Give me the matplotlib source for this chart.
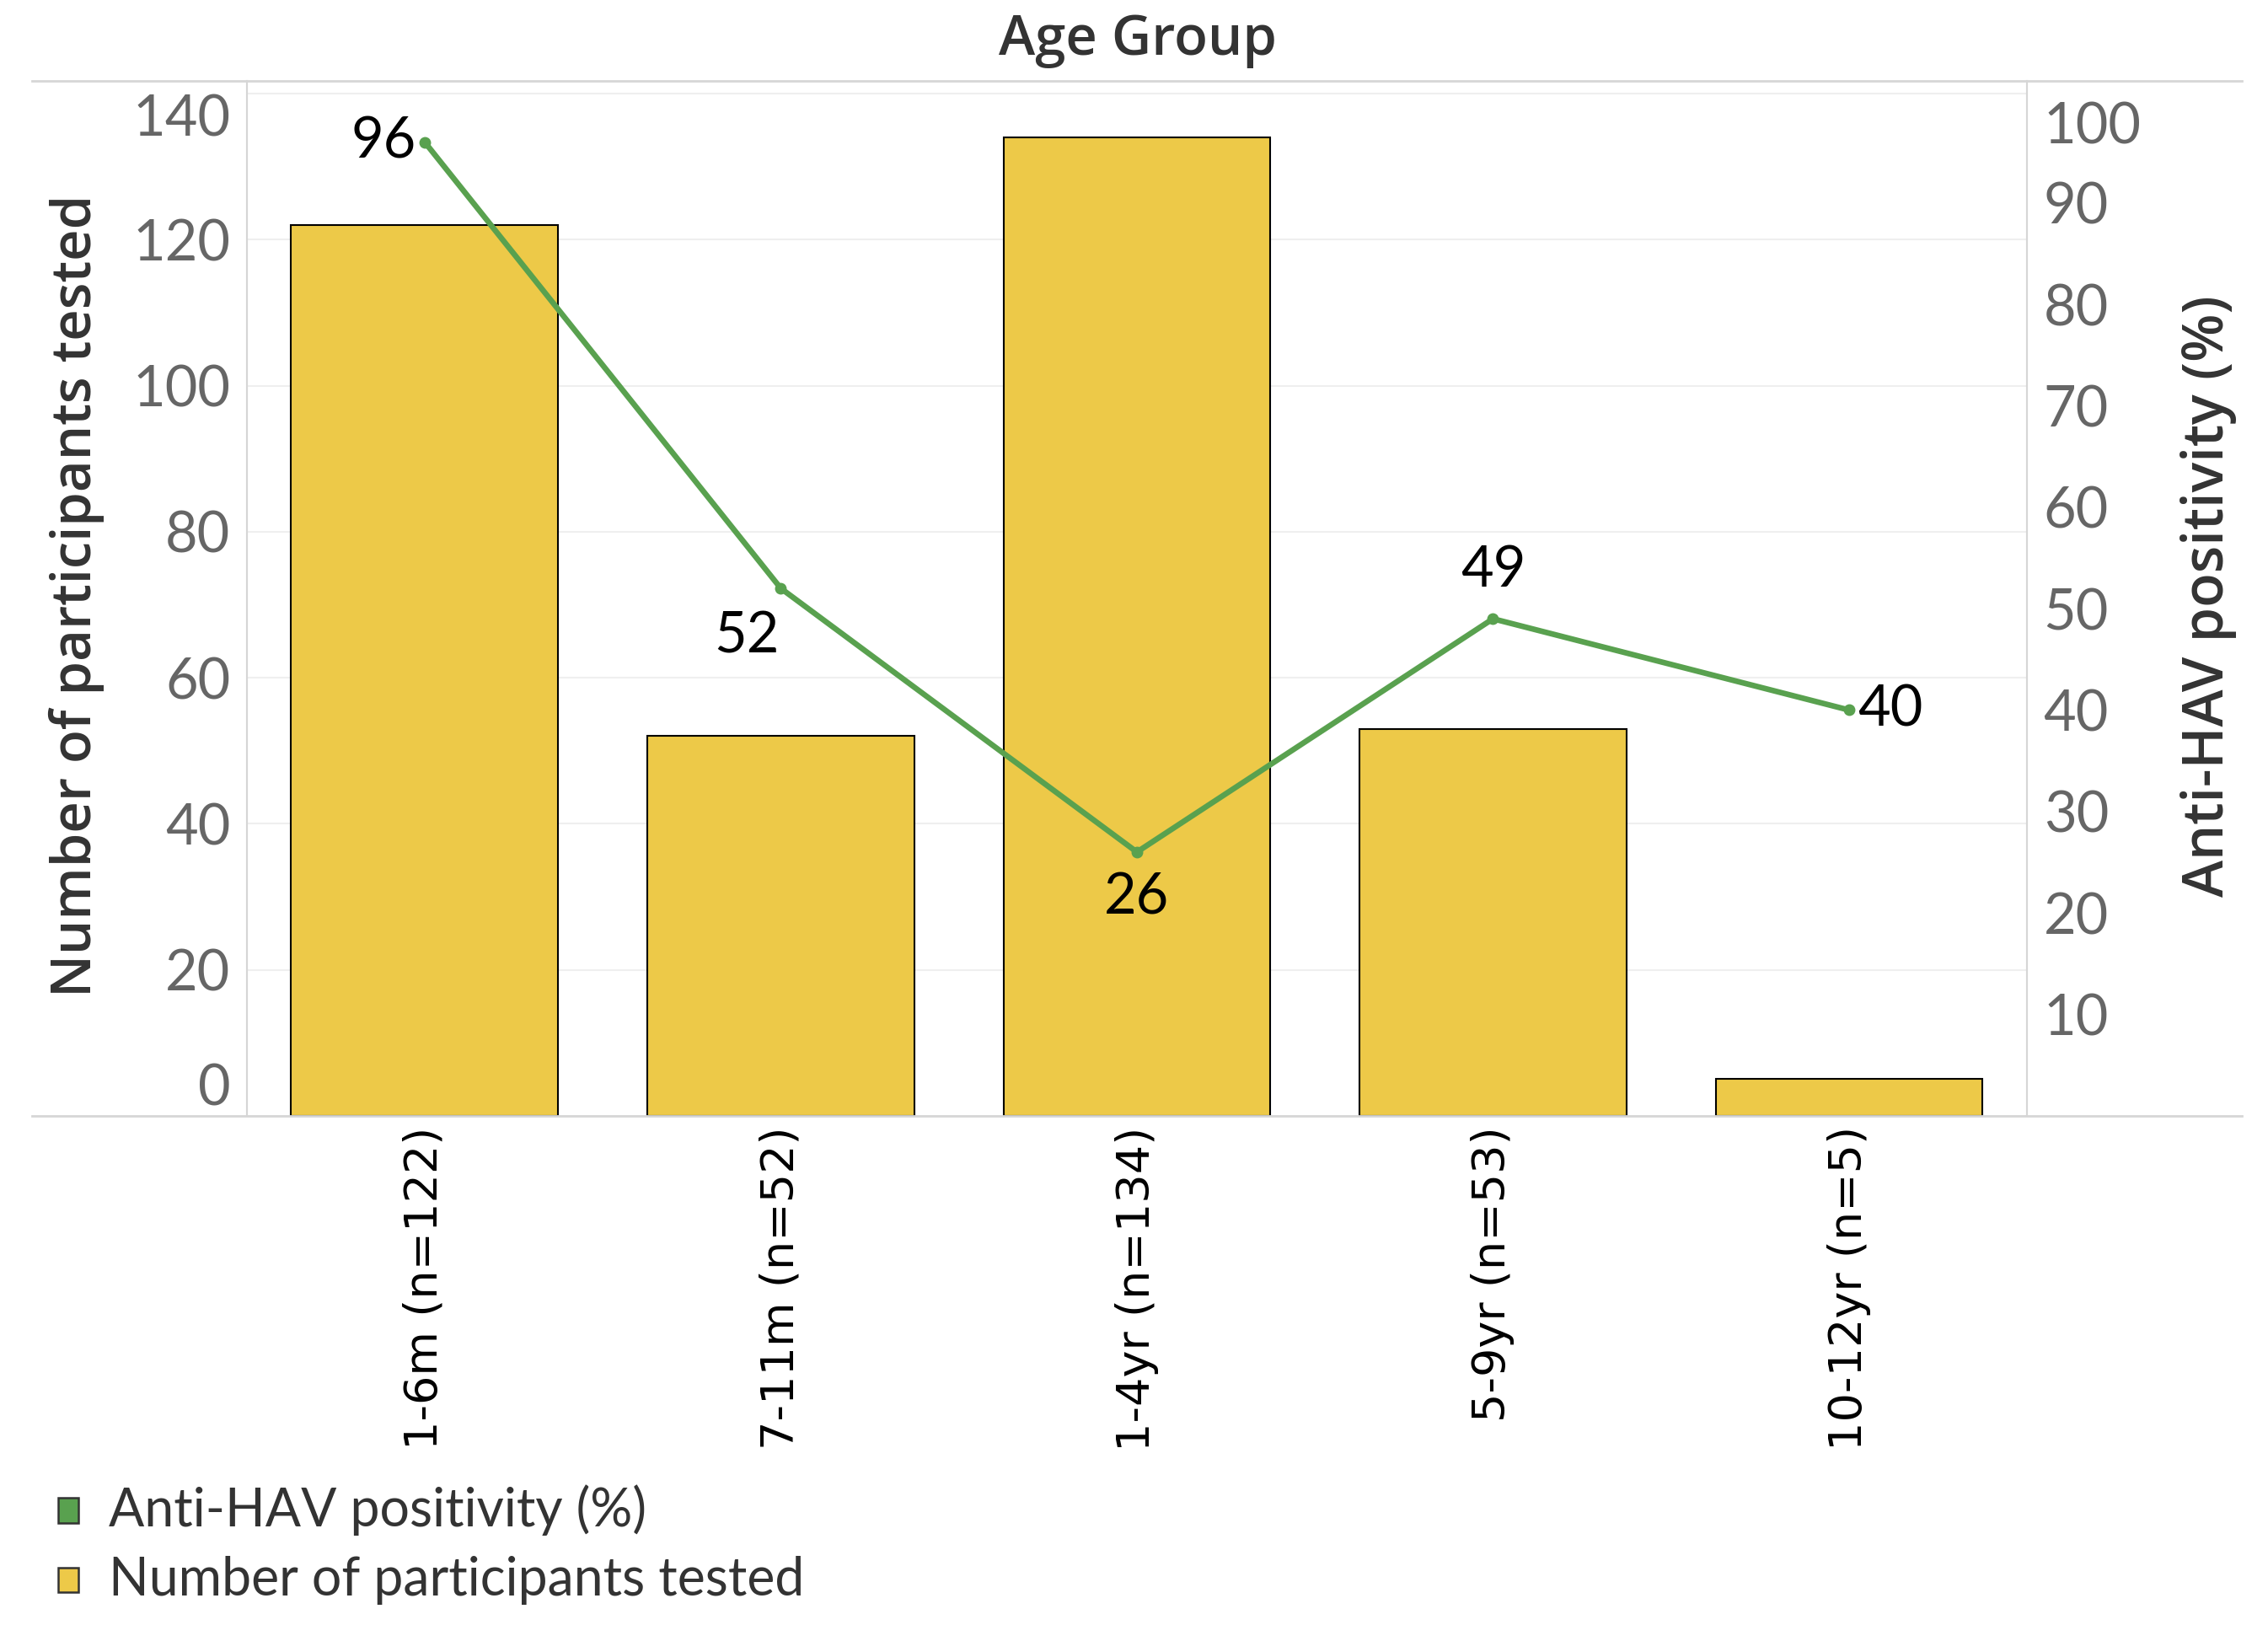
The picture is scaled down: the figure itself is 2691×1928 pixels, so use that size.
import matplotlib.pyplot as plt
from matplotlib.lines import Line2D
from matplotlib.patches import Rectangle

# dados
age_groups = ['1-6m (n=122)', '7-11m (n=52)', '1-4yr (n=134)', '5-9yr (n=53)', '10-12yr (n=5)']
n_tested = [122, 52, 134, 53, 5]
positivity = [96, 52, 26, 49, 40]
left_ticks = [0, 20, 40, 60, 80, 100, 120, 140]
right_ticks = [10, 20, 30, 40, 50, 60, 70, 80, 90, 100]

bar_color = '#EDC948'
line_color = '#59A14F'
tick_color = '#666666'
dark = '#333333'
frame_color = '#d6d6d6'

W, H = 1563, 1120  # coordenadas de referência

fig = plt.figure(figsize=(26.91, 19.28), dpi=100)
ax = fig.add_axes([170 / W, 1 - 769 / H, (1397 - 170) / W, (769 - 56) / H])
ax2 = ax.twinx()

x = list(range(len(age_groups)))
ax.bar(x, n_tested, width=0.75, color=bar_color, edgecolor='black', linewidth=1.5, zorder=2)
ax.set_xlim(-0.5, len(age_groups) - 0.5)
ax.set_ylim(0, 141.7)
ax.set_yticks(left_ticks, [str(t) for t in left_ticks])
ax.grid(axis='y', color='#efefef', linewidth=1.5, zorder=0)
ax.set_axisbelow(True)

ax2.plot(x, positivity, color=line_color, linewidth=4.8, marker='o', markersize=9, zorder=3)
ax2.set_ylim(0, 102)
ax2.set_yticks(right_ticks, [str(t) for t in right_ticks])

for a in (ax, ax2):
    for s in ['top', 'bottom']:
        a.spines[s].set_visible(False)
    a.spines['left'].set_color(frame_color)
    a.spines['right'].set_color(frame_color)
    a.spines['left'].set_linewidth(1.5)
    a.spines['right'].set_linewidth(1.5)
    a.tick_params(axis='y', length=0, colors=tick_color, labelsize=48, pad=14)
    for lab in a.get_yticklabels():
        lab.set_family('Lato')

# rótulos extremos deslocados para dentro
ax.get_yticklabels()[0].set_va('bottom')
ax.get_yticklabels()[-1].set_va('top')
ax2.get_yticklabels()[-1].set_va('top')

ax.set_xticks(x, age_groups, rotation=90, fontsize=39, family='DejaVu Sans', color='black')
ax.tick_params(axis='x', length=0, pad=9)

ax.set_ylabel('Number of participants tested', fontsize=47, family='Open Sans',
              fontweight='semibold', color=dark)
ax.yaxis.set_label_coords(-0.08, 0.503)
ax2.set_ylabel('Anti-HAV positivity (%)', fontsize=48, family='Open Sans',
               fontweight='semibold', color=dark, rotation=90)
ax2.yaxis.set_label_coords(1.086, 0.502)

# rótulos de dados
offsets = [(-10, 0, 'right', 'center'), (-41, -57, 'center', 'center'), (0, -55, 'center', 'center'),
           (0, 57, 'center', 'center'), (10, 0, 'left', 'center')]
for xi, v, (dx, dy, ha, va) in zip(x, positivity, offsets):
    ax2.annotate(str(v), (xi, v), xytext=(dx, dy), textcoords='offset pixels',
                 ha=ha, va=va, fontsize=48, family='Lato', color='black', zorder=4)

# linhas do quadro
for yy in (56, 769):
    fig.add_artist(Line2D([22 / W, 1545 / W], [1 - yy / H, 1 - yy / H],
                          color=frame_color, linewidth=2, transform=fig.transFigure))

fig.text(784 / W, 1 - 28 / H, 'Age Group', ha='center', va='center', fontsize=47,
         family='Open Sans', fontweight='semibold', color=dark)

# legenda
legend_items = [('Anti-HAV positivity (%)', line_color), ('Number of participants tested', bar_color)]
for i, (label, color) in enumerate(legend_items):
    yc = 1 - (1041 + 48 * i) / H
    fig.add_artist(Rectangle((40 / W, yc - 8.5 / H), 14 / W, 17 / H, transform=fig.transFigure,
                             facecolor=color, edgecolor=dark, linewidth=1.8))
    fig.text(75 / W, yc, label, ha='left', va='center', fontsize=45, family='Lato', color=dark)

fig.savefig('out.png', dpi=100)
